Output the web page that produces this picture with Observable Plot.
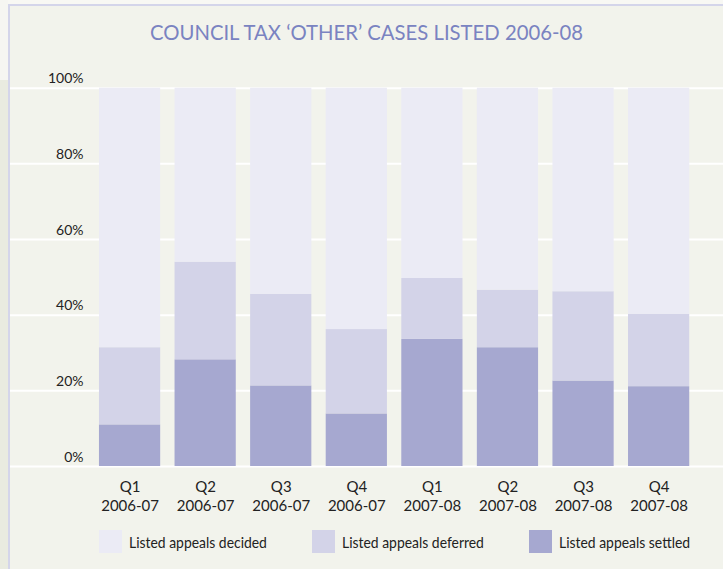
<!DOCTYPE html>
<html>
<head>
<meta charset="utf-8">
<script src="https://cdn.jsdelivr.net/npm/d3@7"></script>
<script src="https://cdn.jsdelivr.net/npm/@observablehq/plot@0.6"></script>
<style>
  html, body { margin: 0; padding: 0; }
  body { width: 723px; height: 569px; position: relative; overflow: hidden; background: #f8f8f4;
         font-family: "Lato", sans-serif; color: #222; }
  #strip { position: absolute; left: 0; top: 0; width: 8px; height: 569px;
           background: linear-gradient(#f6f6f2 0 80px, #e9ebe0 80px); }
  #frame { position: absolute; left: 8px; top: 4px; right: 0; bottom: 0;
           border-left: 2px solid #d4d5ea; border-top: 2px solid #d4d5ea; background: #f2f3ec; }
  #title { position: absolute; left: 150px; top: 20px; height: 24px; line-height: 24px;
           font-size: 21px; color: #7a83c1; white-space: nowrap; transform-origin: left center; }
  #chart { position: absolute; left: 0; top: 50px; }
  #legend { position: absolute; left: 0; top: 520px; width: 723px; height: 49px; }
  .sw { position: absolute; top: 10px; width: 23px; height: 23px; }
  .lab { position: absolute; top: 10px; height: 23px; line-height: 23px; font-size: 16px; white-space: nowrap;
         color: #222; transform-origin: left center; }
</style>
</head>
<body>
<div id="strip"></div>
<div id="frame"></div>
<div id="title">COUNCIL TAX ‘OTHER’ CASES LISTED 2006-08</div>
<div id="chart"></div>
<div id="legend"></div>
<script>
// Data (percent of listed cases)
const quarters = ["Q1", "Q2", "Q3", "Q4", "Q1", "Q2", "Q3", "Q4"];
const years = ["2006-07", "2006-07", "2006-07", "2006-07", "2007-08", "2007-08", "2007-08", "2007-08"];
const settled  = [11.0, 28.2, 21.3, 13.9, 33.6, 31.4, 22.6, 21.1];
const deferred = [20.4, 25.8, 24.2, 22.3, 16.1, 15.2, 23.6, 19.1];
const decided  = [68.6, 46.0, 54.5, 63.8, 50.3, 53.4, 53.8, 59.8];
const seriesNames = ["Listed appeals decided", "Listed appeals deferred", "Listed appeals settled"];
const seriesColors = ["#ebebf5", "#d3d3e8", "#a6a8d0"];
const yTicks = [0, 20, 40, 60, 80, 100];

const labels = quarters.map((q, i) => q + "\n" + years[i]);
const rows = [];
labels.forEach((lab, i) => {
  rows.push({x: lab, series: seriesNames[2], value: settled[i]});
  rows.push({x: lab, series: seriesNames[1], value: deferred[i]});
  rows.push({x: lab, series: seriesNames[0], value: decided[i]});
});

const font = '"Lato", sans-serif';
const plot = Plot.plot({
  width: 723,
  height: 470,
  marginLeft: 10,
  marginRight: 0,
  marginTop: 37.7,
  marginBottom: 54,
  style: {background: "transparent", fontFamily: font, color: "#222"},
  x: {type: "band", domain: labels, padding: 0.19, round: false, insetLeft: 74.6, insetRight: 19.4, label: null},
  y: {domain: [0, 100], axis: null},
  color: {domain: seriesNames, range: seriesColors},
  marks: [
    Plot.ruleY(yTicks, {stroke: "#ffffff", strokeWidth: 2}),
    Plot.barY(rows, {x: "x", y: "value", fill: "series", order: null}),
    Plot.text(yTicks, {y: d => d, text: d => d + "%", frameAnchor: "left", textAnchor: "end",
                       lineAnchor: "bottom", dx: 73, dy: -5, fontSize: 14, fill: "#222"}),
    Plot.axisX({tickSize: 0, tickPadding: 12, fontSize: 15, lineHeight: 1.27, fill: "#222", label: null})
  ]
});
document.getElementById("chart").appendChild(plot);

// Title fitted to the reference width
const title = document.getElementById("title");
title.style.transform = `scaleX(${433 / title.getBoundingClientRect().width})`;

// Legend
const legend = document.getElementById("legend");
const swX = [99, 312, 529];
seriesNames.forEach((name, i) => {
  const sw = document.createElement("div");
  sw.className = "sw";
  sw.style.left = swX[i] + "px";
  sw.style.background = seriesColors[i];
  legend.appendChild(sw);
  const lab = document.createElement("div");
  lab.className = "lab";
  lab.style.left = (swX[i] + 30) + "px";
  lab.textContent = name;
  legend.appendChild(lab);
  lab.style.transform = "scaleX(0.87)";
});
</script>
</body>
</html>
